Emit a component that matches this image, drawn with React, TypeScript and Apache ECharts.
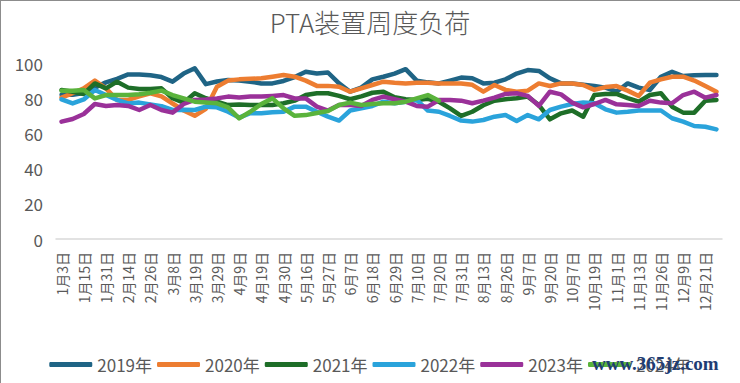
import React, { useEffect, useRef } from "react";
import * as echarts from "echarts";

const categories = [
  "1月3日", "1月9日", "1月15日", "1月22日", "1月31日", "2月7日", "2月14日", "2月20日", "2月26日", "3月3日",
  "3月8日", "3月13日", "3月19日", "3月24日", "3月29日", "4月3日", "4月9日", "4月14日", "4月19日", "4月24日",
  "4月30日", "5月9日", "5月16日", "5月21日", "5月27日", "6月1日", "6月7日", "6月12日", "6月18日", "6月23日",
  "6月29日", "7月4日", "7月10日", "7月15日", "7月20日", "7月25日", "7月31日", "8月6日", "8月13日", "8月20日",
  "8月26日", "9月1日", "9月7日", "9月14日", "9月20日", "9月28日", "10月7日", "10月13日", "10月19日", "10月25日",
  "11月1日", "11月7日", "11月13日", "11月19日", "11月26日", "12月2日", "12月9日", "12月15日", "12月21日", "12月28日",
];

const y2019 = [82, 82, 83, 86, 89, 91, 93.5, 93.5, 93, 92, 89.4, 94, 97, 88, 89.5, 90.3, 90, 89.4, 88.4, 88.4, 89.8, 92, 95, 94, 94.6, 88.4, 83.7, 86, 90.7, 92.2, 94, 96.5, 90, 89, 88.4, 90, 91.7, 91.3, 88.4, 88.8, 90.7, 94, 96, 95.5, 91.3, 88.4, 88.4, 87.6, 86.9, 86, 83.7, 88.4, 86, 84.7, 92.2, 95, 92.6, 93, 93.2, 93.2];
const y2020 = [80.3, 82.8, 85.6, 90, 85.6, 79, 79, 81, 82.8, 81, 77, 73, 70, 74, 86.5, 90, 90.7, 91, 91.3, 92.2, 93.2, 92.2, 90, 87, 87, 86.5, 83.7, 85.6, 87.5, 89.4, 88.8, 88.4, 88.8, 88.8, 88.4, 88.4, 88.4, 87.6, 83.7, 87.5, 84.7, 83.7, 84.3, 88.4, 86.9, 88.4, 88.4, 87.5, 84.7, 86.3, 86.9, 84.3, 81.3, 88.8, 90.7, 92.2, 92.2, 90, 86.9, 83.7];
const y2021 = [84.7, 83.7, 82.4, 88.4, 85.6, 89.4, 86, 85.2, 85.2, 85.6, 80, 77.5, 82.8, 80, 78, 76.1, 76.4, 76.1, 76.1, 76.1, 77.1, 78.6, 81.8, 82.8, 82.8, 81.3, 79.4, 81, 83.1, 83.7, 80.5, 79.4, 79, 79.7, 78, 74.2, 70, 72.3, 76, 78.6, 79.4, 80, 80.9, 76.1, 68, 71.4, 73, 69.5, 81.8, 82.4, 82.4, 80, 78, 81.8, 82.8, 75.2, 71.8, 71.8, 78.6, 79];
const y2022 = [79.3, 77, 79.3, 84.7, 81.8, 79, 77, 77.5, 76.5, 75.5, 73.3, 73.5, 73.3, 75.2, 74.8, 72.3, 69, 71.5, 71.4, 72, 72.3, 75.2, 75.2, 72.3, 69.5, 67.3, 73, 74.2, 75.6, 78, 77.1, 78, 79, 73, 72.3, 69.9, 67.3, 66.7, 67.6, 69.5, 70.4, 67, 70.4, 68, 73.3, 75.2, 76.7, 77.5, 77.1, 73.7, 71.8, 72.3, 73, 73, 73, 68.6, 66.7, 64.2, 63.8, 62.3];
const y2023 = [66.7, 68.2, 71, 76.7, 75.6, 76.1, 75.6, 73.3, 76.1, 73.3, 71.8, 76.7, 79, 79.3, 79.9, 80.9, 80.4, 80.9, 80.9, 81.3, 81.8, 79.9, 79.9, 75.2, 73, 76.1, 76.1, 75.6, 79, 80.9, 79.4, 78, 75.6, 75.2, 79, 79, 78.6, 77.1, 78.6, 80.3, 82.4, 82.8, 81.3, 75.6, 83.7, 82.2, 77.5, 74.8, 76.7, 79, 76.5, 76.1, 75.6, 78.6, 77.5, 77.1, 81.8, 83.7, 80.3, 81.8];
const y2024 = [84.3, 84.3, 84.7, 79.9, 81.8, 81.8, 81.8, 82.2, 83.1, 84.3, 81.8, 79.9, 78, 77.5, 77.1, 74.8, 68.5, 72.3, 76.7, 79.9, 74.2, 70, 70.4, 71.6, 72.7, 76.1, 77.5, 76.1, 76.7, 77.1, 77.1, 78, 79.9, 81.8, 78.6];

const seriesNames = ["2019年", "2020年", "2021年", "2022年", "2023年", "2024年"];
const seriesData = [y2019, y2020, y2021, y2022, y2023, y2024];
const seriesColors = ["#1F6485", "#ED7D31", "#1E6E28", "#2AA3DB", "#9A3199", "#5AB33C"];

const FONT = "'Noto Sans CJK SC', 'Noto Sans', sans-serif";

export default function App() {
  const ref = useRef<HTMLDivElement>(null);

  useEffect(() => {
    if (!ref.current) return;
    const chart = echarts.init(ref.current, undefined, { renderer: "svg" });
    chart.setOption({
      animation: false,
      backgroundColor: "#ffffff",
      textStyle: { fontFamily: FONT },
      title: {
        text: "PTA装置周度负荷",
        left: "center",
        top: 3,
        textStyle: { fontSize: 26, fontWeight: 300, color: "#595959", fontFamily: FONT },
      },
      legend: {
        data: seriesNames,
        left: "center",
        top: 351,
        icon: "roundRect",
        itemWidth: 43,
        itemHeight: 5,
        itemGap: 5,
        textStyle: { fontSize: 17, color: "#595959", fontFamily: FONT },
      },
      grid: { left: 56, right: 18, top: 63, bottom: 144, containLabel: false },
      xAxis: {
        type: "category",
        data: categories,
        boundaryGap: true,
        axisLine: { show: true, lineStyle: { color: "#D9D9D9", width: 1.5 } },
        axisTick: { show: false },
        axisLabel: {
          interval: 1,
          rotate: 90,
          margin: 13,
          fontSize: 14,
          color: "#595959",
          fontFamily: FONT,
        },
      },
      yAxis: {
        type: "value",
        min: 0,
        max: 100,
        interval: 20,
        axisLine: { show: false },
        axisTick: { show: false },
        splitLine: { show: false },
        axisLabel: { fontSize: 17, color: "#595959", margin: 13, fontFamily: FONT },
      },
      series: seriesNames.map((name, i) => ({
        name,
        type: "line",
        data: seriesData[i],
        symbol: "none",
        showSymbol: false,
        smooth: false,
        itemStyle: { color: seriesColors[i] },
        lineStyle: { color: seriesColors[i], width: 4.5, cap: "round", join: "round" },
      })),
      graphic: [
        { type: "line", shape: { x1: 0.5, y1: 0, x2: 0.5, y2: 383 }, style: { stroke: "#8C8C8C", lineWidth: 1 }, z: 100 },
        { type: "line", shape: { x1: 0, y1: 0.5, x2: 740, y2: 0.5 }, style: { stroke: "#8C8C8C", lineWidth: 1 }, z: 100 },
        {
          type: "text",
          left: 592,
          top: 354,
          z: 100,
          style: {
            text: "www.365jz.com",
            fontSize: 19,
            fontFamily: "'Liberation Serif', serif",
            fontWeight: "bold",
            fill: "#1F3D73",
          },
        },
      ],
    });
    return () => chart.dispose();
  }, []);

  return (
    <div
      ref={ref}
      style={{ position: "absolute", left: 0, top: 0, width: 740, height: 383 }}
    />
  );
}
